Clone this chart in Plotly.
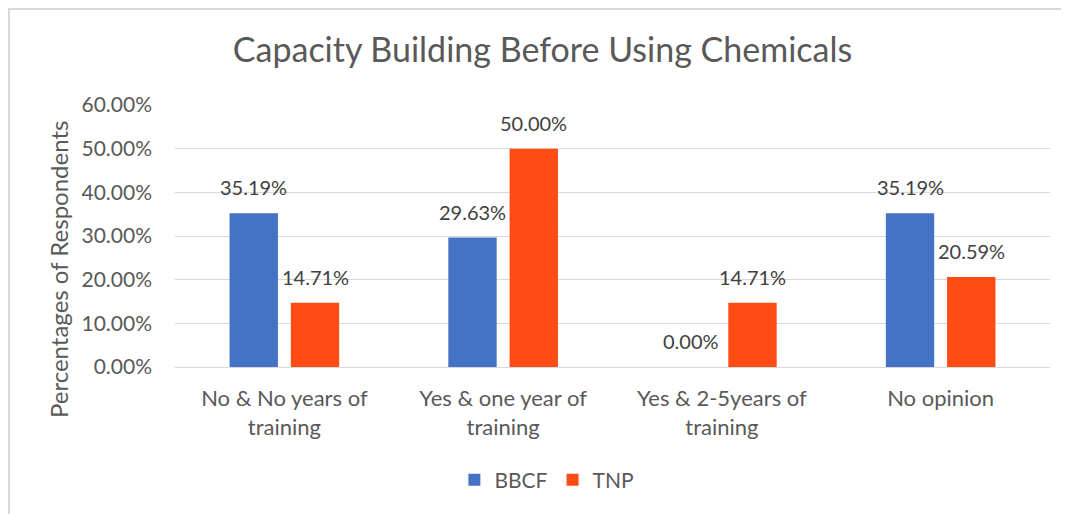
import plotly.graph_objects as go

categories = ["No & No years of<br>training", "Yes & one year of<br>training",
              "Yes & 2-5years of<br>training", "No opinion"]
bbcf = [0.3519, 0.2963, 0.0, 0.3519]
tnp = [0.1471, 0.5000, 0.1471, 0.2059]
series_names = ["BBCF", "TNP"]
colors = ["#4472C4", "#FF4B14"]

FONT = "Lato"
W, H = 1061, 506          # page body keeps an 8px margin
L, R, T, B = 167, 19, 97, 147
BARGAP, GROUPGAP = 0.44, 0.21

fig = go.Figure()
for name, vals, col in zip(series_names, [bbcf, tnp], colors):
    fig.add_trace(go.Bar(name=name, x=categories, y=vals, marker=dict(color=col, line=dict(width=0))))

plot_w = W - L - R
plot_h = H - T - B
cat_w = plot_w / len(categories)
slot = (1 - BARGAP) * cat_w / 2
annotations = []
for i, vals in enumerate([bbcf, tnp]):
    shift = (i - 0.5) * slot
    for c, v in zip(categories, vals):
        annotations.append(dict(x=c, y=v, xref="x", yref="y", text=f"{v*100:.2f}%",
                                showarrow=False, xshift=shift, yshift=26, yanchor="middle",
                                font=dict(family=FONT, size=20, color="#404040")))

annotations.append(dict(text="Percentages of Respondents", textangle=-90, showarrow=False,
                        xref="paper", yref="paper", x=(50 - L) / plot_w, y=(H - B - 262) / plot_h,
                        xanchor="center", yanchor="middle",
                        font=dict(family=FONT, size=24, color="#595959")))

fig.update_layout(
    width=W, height=H,
    margin=dict(l=L, r=R, t=T, b=B),
    paper_bgcolor="white", plot_bgcolor="white",
    barmode="group", bargap=BARGAP, bargroupgap=GROUPGAP,
    title=dict(text="Capacity Building Before Using Chemicals", x=0.5038, xanchor="center",
               y=1 - 42 / H, yanchor="middle", font=dict(family=FONT, size=34, color="#595959")),
    font=dict(family=FONT, color="#595959"),
    legend=dict(orientation="h", x=0.425, xanchor="center", y=-(472 - (H - B)) / plot_h, yanchor="middle",
                font=dict(family=FONT, size=21, color="#595959"), itemwidth=30, traceorder="normal"),
    annotations=annotations,
    shapes=[
        dict(type="line", xref="paper", yref="paper", x0=(0 - L) / plot_w, x1=(W + 5 - L) / plot_w,
             y0=(H - B - 1) / plot_h, y1=(H - B - 1) / plot_h, line=dict(color="#d9d9d9", width=2)),
        dict(type="line", xref="paper", yref="paper", x0=(1 - L) / plot_w, x1=(1 - L) / plot_w,
             y0=(H - B) / plot_h, y1=-1.0, line=dict(color="#d9d9d9", width=2)),
    ],
)
fig.update_yaxes(range=[0, 0.6], dtick=0.1, tickformat=".2%", showgrid=True, gridcolor="#d9d9d9",
                 gridwidth=1, zeroline=True, zerolinecolor="#d9d9d9", zerolinewidth=1,
                 ticklabelstandoff=22, tickfont=dict(family=FONT, size=21, color="#595959"))
fig.update_xaxes(showgrid=False, showline=True, linecolor="#d9d9d9", linewidth=1,
                 ticklabelstandoff=12, tickfont=dict(family=FONT, size=22, color="#595959"))

fig.write_html("out.html")
